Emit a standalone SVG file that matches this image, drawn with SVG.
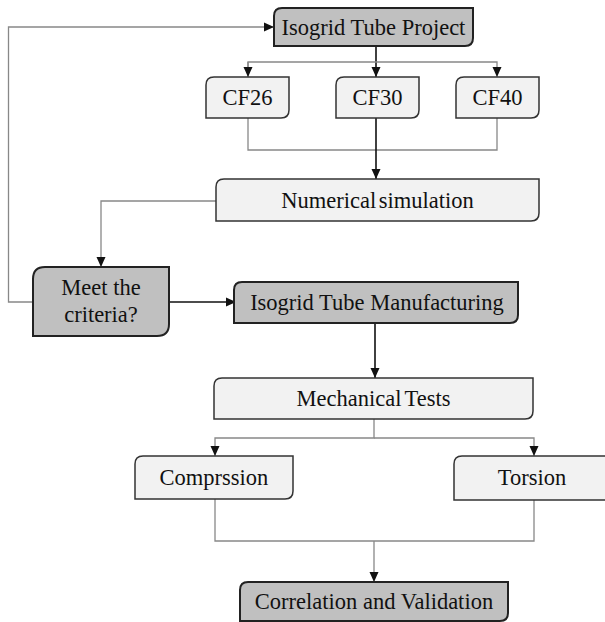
<svg xmlns="http://www.w3.org/2000/svg" width="605" height="622" viewBox="0 0 605 622">
<style>
.dark{fill:#c0c0c0;stroke:#222;stroke-width:2}
.light{fill:#f2f2f2;stroke:#333;stroke-width:1.5}
text{font-family:"Liberation Serif","Times New Roman",serif;font-size:22.5px;fill:#111;text-anchor:middle}
.g{fill:none;stroke:#888;stroke-width:1.3}
.k{fill:none;stroke:#111;stroke-width:1.6}
</style>
<defs>
<marker id="ah" markerUnits="userSpaceOnUse" markerWidth="10" markerHeight="10" viewBox="0 0 10 10" refX="10" refY="5" orient="auto">
<path d="M0,0.5 L10,5 L0,9.5 Z" fill="#111"/>
</marker>
</defs>
<g id="connectors">
<path class="k" d="M376,46 V77" marker-end="url(#ah)"/>
<path class="g" d="M248,77 V62 H497 V77" marker-end="url(#ah)"/>
<path class="g" d="M248,62 V77" marker-end="url(#ah)"/>
<path class="g" d="M248,118 V150 H497 V118"/>
<path class="k" d="M376,118 V179" marker-end="url(#ah)"/>
<path class="g" d="M216,201 H101 V267" marker-end="url(#ah)"/>
<path class="g" d="M33,302 H8.5 V27 H274" marker-end="url(#ah)"/>
<path class="k" d="M169,302 H236" marker-end="url(#ah)"/>
<path class="k" d="M375,323 V378" marker-end="url(#ah)"/>
<path class="g" d="M374,419 V438 H215 V456" marker-end="url(#ah)"/>
<path class="g" d="M374,438 H534 V456" marker-end="url(#ah)"/>
<path class="g" d="M215,499 V541 H534 V500"/>
<path class="g" d="M374,541 V582" marker-end="url(#ah)"/>
</g>
<g id="project">
<path class="dark" d="M282,8 H473 V38 Q473,46 465,46 H274 V16 Q274,8 282,8 Z"/>
<text x="373.5" y="35">Isogrid Tube Project</text>
</g>
<g id="cf26">
<path class="light" d="M214,77 H289 V110 Q289,118 281,118 H206 V85 Q206,77 214,77 Z"/>
<text x="247.5" y="105">CF26</text>
</g>
<g id="cf30">
<path class="light" d="M344,77 H419 V110 Q419,118 411,118 H336 V85 Q336,77 344,77 Z"/>
<text x="377.5" y="105">CF30</text>
</g>
<g id="cf40">
<path class="light" d="M464,77 H539 V110 Q539,118 531,118 H456 V85 Q456,77 464,77 Z"/>
<text x="497.5" y="105">CF40</text>
</g>
<g id="numerical">
<path class="light" d="M224,179 H539 V213 Q539,221 531,221 H216 V187 Q216,179 224,179 Z"/>
<text x="377.5" y="208" word-spacing="-3">Numerical simulation</text>
</g>
<g id="meet">
<path class="dark" d="M45,267 H169 V324 Q169,336 157,336 H33 V279 Q33,267 45,267 Z"/>
<text x="101" y="295">Meet the</text>
<text x="101" y="322">criteria?</text>
</g>
<g id="manufacturing">
<path class="dark" d="M242,282 H518 V315 Q518,323 510,323 H234 V290 Q234,282 242,282 Z"/>
<text x="377" y="310">Isogrid Tube Manufacturing</text>
</g>
<g id="mechanical">
<path class="light" d="M222,378 H533 V411 Q533,419 525,419 H214 V386 Q214,378 222,378 Z"/>
<text x="373.5" y="406" word-spacing="-2">Mechanical Tests</text>
</g>
<g id="compression">
<path class="light" d="M143,456 H293 V491 Q293,499 285,499 H135 V464 Q135,456 143,456 Z"/>
<text x="214" y="485">Comprssion</text>
</g>
<g id="torsion">
<path class="light" d="M462,456 H612 V500 H454 V464 Q454,456 462,456 Z"/>
<text x="532" y="485">Torsion</text>
</g>
<g id="correlation">
<path class="dark" d="M248,582 H508 V613 Q508,621 500,621 H240 V590 Q240,582 248,582 Z"/>
<text x="374" y="609">Correlation and Validation</text>
</g>
</svg>
